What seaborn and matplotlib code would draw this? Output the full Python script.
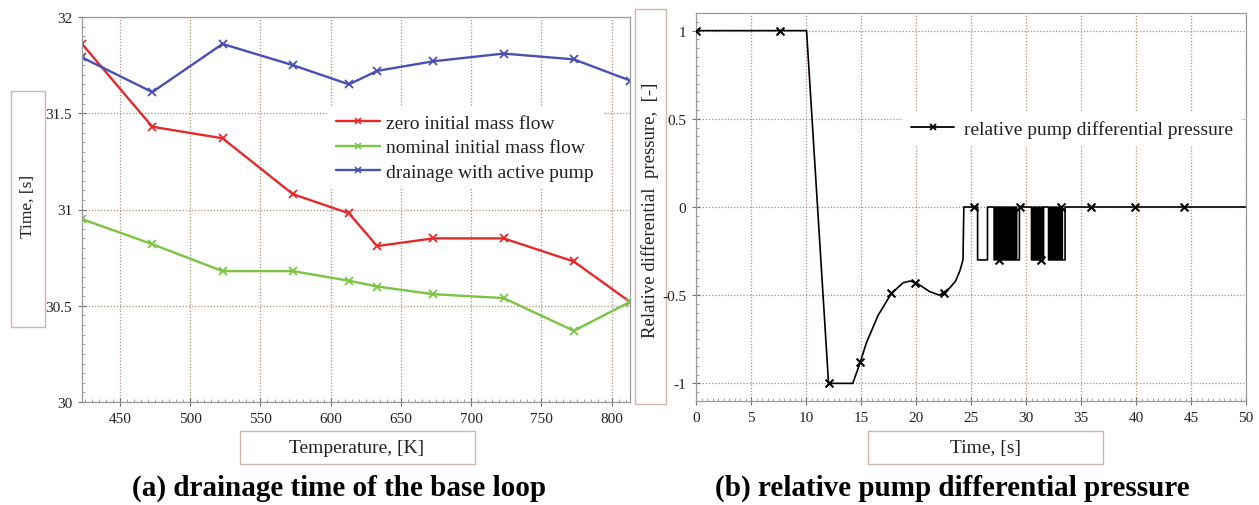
import numpy as np
import pandas as pd
import matplotlib
matplotlib.use("Agg")
import matplotlib.pyplot as plt
import seaborn as sns
from matplotlib.lines import Line2D
from matplotlib.patches import Rectangle
from matplotlib.ticker import MultipleLocator

# (a) drainage time of the base loop
temperature = [423, 473, 523, 573, 613, 633, 673, 723, 773, 813]
zero_flow = [31.86, 31.43, 31.37, 31.08, 30.98, 30.81, 30.85, 30.85, 30.73, 30.52]
nominal_flow = [30.95, 30.82, 30.68, 30.68, 30.63, 30.60, 30.56, 30.54, 30.37, 30.52]
active_pump = [31.79, 31.61, 31.86, 31.75, 31.65, 31.72, 31.77, 31.81, 31.78, 31.67]
case_names = ["zero initial mass flow", "nominal initial mass flow", "drainage with active pump"]
case_colors = ["#e62a2a", "#7cc444", "#4a4fb4"]

# (b) relative pump differential pressure
curve_time = [0, 10.05, 12.05, 14.25, 14.88, 15.49, 16.55, 17.76, 18.82, 19.43, 20.03,
              21.25, 22.15, 23.05, 23.6, 24.0, 24.27, 24.35]
curve_value = [1, 1, -1, -1, -0.89, -0.77, -0.615, -0.49, -0.43, -0.42, -0.43,
               -0.48, -0.50, -0.46, -0.42, -0.36, -0.30, 0]
pulse_level = -0.3
pulse_start = [25.6, 27.1, 27.4, 27.65, 27.9, 28.15, 28.4, 28.65, 28.9, 29.15,
               30.5, 30.75, 31.0, 31.25, 31.5, 32.05, 32.3, 32.55, 32.8, 33.05, 33.3]
pulse_end = [26.5, 27.25, 27.55, 27.8, 28.05, 28.3, 28.55, 28.8, 29.05, 29.4,
             30.65, 30.9, 31.15, 31.4, 31.6, 32.2, 32.45, 32.7, 32.95, 33.2, 33.55]
end_time = 50
marker_time = [0, 7.6, 12.1, 14.9, 17.7, 19.9, 22.5, 25.3, 27.55, 29.45, 31.4, 33.2, 35.9, 39.9, 44.4]
marker_value = [1, 1, -1, -0.88, -0.49, -0.43, -0.49, 0, -0.3, 0, -0.3, 0, 0, 0, 0]

W, H = 1259, 506


def px_box(x0, y0, x1, y1):
    return [x0 / W, 1 - y1 / H, (x1 - x0) / W, (y1 - y0) / H]


sns.set_theme(style="white")
plt.rcParams["font.family"] = ["Liberation Serif", "DejaVu Serif"]
plt.rcParams["axes.unicode_minus"] = False
plt.rcParams["text.color"] = "#222222"

fig = plt.figure(figsize=(W / 100, H / 100), dpi=100)
fig.patch.set_facecolor("white")

# label boxes go first so the axes are drawn over them
box_kw = dict(transform=fig.transFigure, facecolor="none", edgecolor="#cdb6ae", lw=1.0, zorder=-1)
for x0, y0, x1, y1 in [(11, 92, 45, 328), (240, 432, 475, 465),
                       (635, 10, 666, 405), (868, 432, 1103, 465)]:
    b = px_box(x0, y0, x1, y1)
    fig.add_artist(Rectangle((b[0], b[1]), b[2], b[3], **box_kw))

ax1 = fig.add_axes(px_box(82, 18, 630, 403))
ax2 = fig.add_axes(px_box(696, 14, 1246, 402))

grid_kw = dict(color="#a8907f", lw=0.9, ls=(0, (1, 1.5)))

# ---- left panel
df = pd.DataFrame({
    "temperature": temperature * 3,
    "time": zero_flow + nominal_flow + active_pump,
    "case": [n for n in case_names for _ in temperature],
})
sns.lineplot(data=df, x="temperature", y="time", hue="case", hue_order=case_names,
             palette=dict(zip(case_names, case_colors)), marker="x", markersize=6,
             lw=1.7, ax=ax1, legend=False, estimator=None, sort=False)
for line in ax1.lines:
    line.set_markeredgecolor(line.get_color())
    line.set_markeredgewidth(1.3)

ax1.set_xlim(423, 813)
ax1.set_ylim(30, 32)
ax1.set_xticks([450, 500, 550, 600, 650, 700, 750, 800])
ax1.set_yticks([30, 30.5, 31, 31.5, 32])
ax1.set_yticklabels(["30", "30.5", "31", "31.5", "32"])
ax1.xaxis.set_minor_locator(MultipleLocator(5))
ax1.yaxis.set_minor_locator(MultipleLocator(0.05))

handles = [Line2D([], [], color=c, lw=1.7, marker="x", ms=4, mew=1.2) for c in case_colors]
ax1.legend(handles, case_names, loc="upper left", bbox_to_anchor=(0.447, 0.77),
           frameon=True, fancybox=False, framealpha=1, edgecolor="none",
           facecolor="white", fontsize=14, handlelength=2.3, handletextpad=0.3,
           labelspacing=0.35, borderaxespad=0, borderpad=0.45)

# ---- right panel
t = list(curve_time)
p = list(curve_value)
for s, e in zip(pulse_start, pulse_end):
    t += [s, s, e, e]
    p += [0, pulse_level, pulse_level, 0]
t.append(end_time)
p.append(0)

sns.lineplot(x=t, y=p, ax=ax2, color="black", lw=1.2, estimator=None, sort=False)
sns.scatterplot(x=marker_time, y=marker_value, ax=ax2, marker="x", color="black",
                s=32, linewidth=1.5, zorder=3)

ax2.set_xlim(0, 50)
ax2.set_ylim(-1.1, 1.1)
ax2.set_xticks(range(0, 51, 5))
ax2.set_yticks([-1, -0.5, 0, 0.5, 1])
ax2.set_yticklabels(["-1", "-0.5", "0", "0.5", "1"])
ax2.xaxis.set_minor_locator(MultipleLocator(0.5))
ax2.yaxis.set_minor_locator(MultipleLocator(0.05))

ax2.legend([Line2D([], [], color="black", lw=1.3, marker="x", ms=4, mew=1.3)],
           ["relative pump differential pressure"], loc="upper right",
           bbox_to_anchor=(0.99, 0.745), frameon=True, fancybox=False, framealpha=1,
           edgecolor="none", facecolor="white", fontsize=14, handlelength=2.2,
           handletextpad=0.5, borderaxespad=0, borderpad=0.4)

for ax in (ax1, ax2):
    ax.set_xlabel("")
    ax.set_ylabel("")
    ax.grid(True, which="major", **grid_kw)
    ax.set_axisbelow(True)
    for sp in ax.spines.values():
        sp.set_color("#9a9a9a")
        sp.set_linewidth(0.9)
    ax.tick_params(which="major", direction="inout", length=6, width=0.8, color="#707070",
                   labelsize=11, labelcolor="#222222", pad=4)
    ax.tick_params(which="minor", direction="in", length=2.5, width=0.6, color="#909090")
    ax.tick_params(axis="x", which="both", bottom=True)
    ax.tick_params(axis="y", which="both", left=True)

fig.text(28 / W, 1 - 206 / H, "Time, [s]", rotation=90, ha="center", va="center", fontsize=12.5)
fig.text(357 / W, 1 - 449 / H, "Temperature, [K]", ha="center", va="center", fontsize=14)
fig.text(650 / W, 1 - 210 / H, "Relative differential  pressure,  [-]", rotation=90,
         ha="center", va="center", fontsize=13.5)
fig.text(985 / W, 1 - 449 / H, "Time, [s]", ha="center", va="center", fontsize=14)

fig.text(339 / W, 1 - 488 / H, "(a) drainage time of the base loop", ha="center",
         va="center", fontsize=21, fontweight="bold", color="black")
fig.text(952 / W, 1 - 488 / H, "(b) relative pump differential pressure", ha="center",
         va="center", fontsize=21, fontweight="bold", color="black")

fig.savefig("out.png", dpi=100)
